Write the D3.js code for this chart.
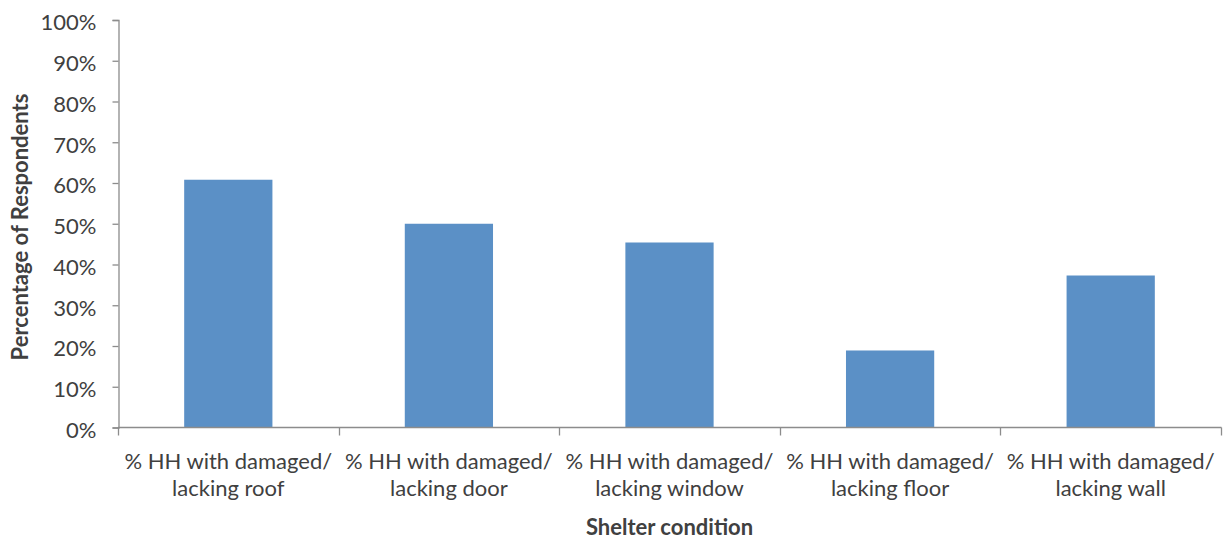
<!DOCTYPE html>
<html>
<head>
<meta charset="utf-8">
<script src="https://cdn.jsdelivr.net/npm/d3@7"></script>
<style>
  html, body { margin: 0; padding: 0; background: #fff; }
  svg { display: block; }
  text { font-family: Lato, "Open Sans", sans-serif; fill: #404040; }
</style>
</head>
<body>
<svg id="chart" width="1223" height="539"></svg>
<script>
// Shelter condition categories (two-line labels)
const categories = [
  ["% HH with damaged/", "lacking roof"],
  ["% HH with damaged/", "lacking door"],
  ["% HH with damaged/", "lacking window"],
  ["% HH with damaged/", "lacking floor"],
  ["% HH with damaged/", "lacking wall"]
];
// Share of respondents (%)
const values = [60.8, 50.0, 45.4, 18.9, 37.3];
const yTicks = [0, 10, 20, 30, 40, 50, 60, 70, 80, 90, 100];

const svg = d3.select("#chart");
const margin = { left: 118, right: 2, top: 20, bottom: 111 };
const W = 1223, H = 539;
const axisColor = "#8c8c8c";

const keys = categories.map((c, i) => i);
const x = d3.scaleBand()
  .domain(keys)
  .range([margin.left, W - margin.right])
  .paddingInner(0.6)
  .paddingOuter(0.3);

const y = d3.scaleLinear()
  .domain([0, 100])
  .range([H - margin.bottom - 0.5, margin.top]);

// Bars
svg.append("g")
  .selectAll("rect")
  .data(values)
  .join("rect")
  .attr("x", (d, i) => x(i))
  .attr("width", x.bandwidth())
  .attr("y", d => y(d))
  .attr("height", d => y(0) - y(d))
  .attr("fill", "#5b90c6");

// Y axis
const yAxis = svg.append("g")
  .attr("transform", `translate(${margin.left + 0.5},0)`)
  .call(d3.axisLeft(y).tickValues(yTicks).tickFormat(d => d + "%").tickSize(6).tickPadding(16));
yAxis.select(".domain").attr("stroke", axisColor).attr("stroke-width", 1.3);
yAxis.selectAll(".tick line").attr("stroke", axisColor).attr("stroke-width", 1.3);
yAxis.selectAll(".tick text")
  .attr("font-size", 22)
  .attr("dy", "0.45em")
  .style("font-family", "Lato, sans-serif")
  .attr("fill", "#404040");

// X axis with ticks at the band boundaries
const xAxisY = y(0);
const gx = svg.append("g");
gx.append("line")
  .attr("x1", margin.left).attr("x2", W - margin.right + 0.5)
  .attr("y1", xAxisY).attr("y2", xAxisY)
  .attr("stroke", axisColor).attr("stroke-width", 1.3);
const step = x.step();
const start = x(0) - x.paddingOuter() * step;
const boundaries = d3.range(keys.length + 1).map(i => start + i * step);
gx.selectAll("line.tk")
  .data(boundaries)
  .join("line")
  .attr("class", "tk")
  .attr("x1", d => Math.round(d) + 0.5).attr("x2", d => Math.round(d) + 0.5)
  .attr("y1", xAxisY).attr("y2", xAxisY + 8)
  .attr("stroke", axisColor).attr("stroke-width", 1.3);

// Category labels
const lab = gx.selectAll("text.cat")
  .data(categories)
  .join("text")
  .attr("class", "cat")
  .attr("text-anchor", "middle")
  .attr("font-size", 22)
  .attr("x", (d, i) => x(i) + x.bandwidth() / 2)
  .attr("y", xAxisY + 41);
lab.selectAll("tspan")
  .data(d => d)
  .join("tspan")
  .attr("x", function () { return d3.select(this.parentNode).attr("x"); })
  .attr("dy", (d, j) => j === 0 ? 0 : 27)
  .text(d => d);

// Axis titles
svg.append("text")
  .attr("x", (margin.left + W - margin.right) / 2)
  .attr("y", 535)
  .attr("text-anchor", "middle")
  .attr("font-size", 22)
  .attr("font-weight", "bold")
  .attr("fill", "#262626")
  .text("Shelter condition");

svg.append("text")
  .attr("transform", `translate(28,227) rotate(-90)`)
  .attr("text-anchor", "middle")
  .attr("font-size", 22)
  .attr("font-weight", "bold")
  .attr("fill", "#262626")
  .text("Percentage of Respondents");
</script>
</body>
</html>
